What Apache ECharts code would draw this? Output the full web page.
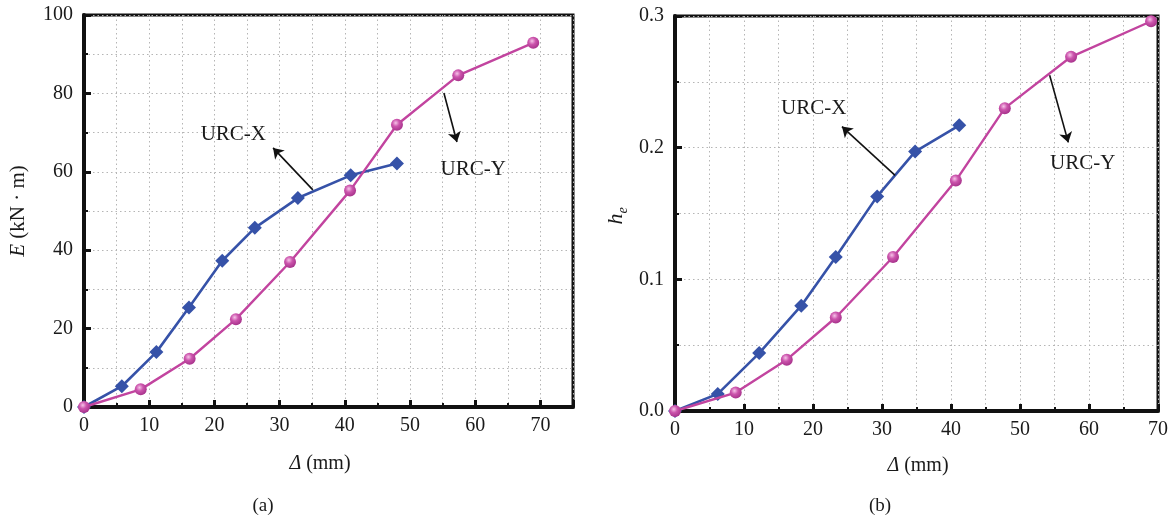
<!DOCTYPE html>
<html>
<head>
<meta charset="utf-8">
<script src="https://cdn.jsdelivr.net/npm/echarts@6/dist/echarts.min.js"></script>
<style>
  html, body { margin: 0; padding: 0; background: #fff; }
  #chart { width: 1175px; height: 522px; }
</style>
</head>
<body>
<div id="chart"></div>
<script>
// (a) dissipated energy E versus displacement
const dispA_X = [0, 5.8, 11.1, 16.1, 21.2, 26.2, 32.8, 40.9, 48.0];
const energyA_X = [0, 5.3, 14.0, 25.4, 37.3, 45.7, 53.3, 59.1, 62.1];
const dispA_Y = [0, 8.7, 16.2, 23.3, 31.6, 40.8, 48.0, 57.4, 68.9];
const energyA_Y = [0, 4.5, 12.3, 22.4, 37.0, 55.2, 72.0, 84.6, 92.9];

// (b) equivalent viscous damping coefficient h_e versus displacement
const dispB_X = [0, 6.2, 12.2, 18.3, 23.3, 29.3, 34.8, 41.2];
const heB_X = [0, 0.013, 0.044, 0.080, 0.117, 0.163, 0.197, 0.217];
const dispB_Y = [0, 8.8, 16.2, 23.3, 31.6, 40.7, 47.8, 57.4, 69.0];
const heB_Y = [0, 0.014, 0.039, 0.071, 0.117, 0.175, 0.230, 0.269, 0.296];

const seriesNames = ['URC-X', 'URC-Y'];

// callout arrows: [tail, head] and label anchor, in data units
const calloutA = {
  x: { tail: [35.1, 55.4], head: [29.0, 66.1], text: [22.9, 69.4] },
  y: { tail: [55.2, 80.1], head: [57.2, 67.6], text: [59.7, 60.5] }
};
const calloutB = {
  x: { tail: [31.9, 0.179], head: [24.2, 0.216], text: [20.1, 0.230] },
  y: { tail: [54.3, 0.255], head: [57.0, 0.204], text: [59.1, 0.188] }
};

const SERIF = "'Liberation Serif', 'DejaVu Serif', serif";
const BLUE = '#3652a8';
const MAGENTA = '#c2449f';
const TXT = '#1a1a1a';

const pair = (xs, ys) => xs.map((x, i) => [x, ys[i]]);

const dotted = { color: '#b5b5b5', width: 1, type: [1.5, 3] };

function arrowMark(c) {
  return {
    silent: true,
    animation: false,
    symbol: ['none', 'arrow'],
    symbolSize: 10,
    itemStyle: { color: '#111' },
    lineStyle: { color: '#111', width: 1.6, type: 'solid' },
    label: { show: false },
    data: [[{ coord: c.tail }, { coord: c.head }]]
  };
}
function textMark(c, name) {
  return {
    silent: true,
    animation: false,
    symbol: 'circle',
    symbolSize: 0,
    label: {
      show: true, position: 'inside', formatter: name,
      color: TXT, fontFamily: SERIF, fontSize: 21
    },
    data: [{ coord: c.text }]
  };
}

const blueStyle = {
  type: 'line', symbol: 'diamond', symbolSize: 14,
  lineStyle: { color: BLUE, width: 2.6 },
  itemStyle: { color: BLUE },
  z: 3
};
const ballFill = {
  type: 'radial', x: 0.4, y: 0.35, r: 0.65,
  colorStops: [
    { offset: 0, color: '#f6c3e8' },
    { offset: 0.45, color: '#cc55ad' },
    { offset: 1, color: '#a8338c' }
  ]
};
const magentaStyle = {
  type: 'line', symbol: 'circle', symbolSize: 12,
  lineStyle: { color: MAGENTA, width: 2.4 },
  itemStyle: { color: ballFill },
  z: 4
};

const labelStyle = { color: TXT, fontFamily: SERIF, fontSize: 20 };

const option = {
  animation: false,
  backgroundColor: '#fff',
  grid: [
    { left: 84, top: 15, width: 489, height: 392, show: true,
      borderColor: '#111', borderWidth: 3, backgroundColor: 'transparent' },
    { left: 675, top: 16, width: 483, height: 395, show: true,
      borderColor: '#111', borderWidth: 3, backgroundColor: 'transparent' }
  ],
  xAxis: [
    { // (a) main x axis: grid every 5, labels every 10
      gridIndex: 0, type: 'value', min: 0, max: 75, interval: 5,
      axisLine: { show: true, onZero: false, lineStyle: { color: '#111', width: 4 } },
      axisTick: { show: true, inside: true, length: 4, lineStyle: { color: '#111', width: 2 } },
      axisLabel: Object.assign({ margin: 9, formatter: v => (v % 10 === 0 && v <= 70) ? String(v) : '' }, labelStyle),
      splitLine: { show: true, lineStyle: dotted }
    },
    { // (a) major ticks every 10
      gridIndex: 0, type: 'value', min: 0, max: 75, interval: 10, position: 'bottom',
      axisLine: { show: false },
      axisTick: { show: true, inside: true, length: 7, lineStyle: { color: '#111', width: 3 } },
      axisLabel: { show: false },
      splitLine: { show: false }
    },
    { // (b) x axis
      gridIndex: 1, type: 'value', min: 0, max: 70, interval: 10,
      axisLine: { show: true, onZero: false, lineStyle: { color: '#111', width: 4 } },
      axisTick: { show: true, inside: true, length: 7, lineStyle: { color: '#111', width: 3 } },
      minorTick: { show: true, splitNumber: 2, length: 4, lineStyle: { color: '#111', width: 2 } },
      axisLabel: Object.assign({ margin: 9 }, labelStyle),
      splitLine: { show: true, lineStyle: dotted },
      minorSplitLine: { show: true, lineStyle: dotted }
    }
  ],
  yAxis: [
    {
      gridIndex: 0, type: 'value', min: 0, max: 100, interval: 20,
      axisLine: { show: true, onZero: false, lineStyle: { color: '#111', width: 4 } },
      axisTick: { show: true, inside: true, length: 7, lineStyle: { color: '#111', width: 3 } },
      minorTick: { show: true, splitNumber: 2, length: 4, lineStyle: { color: '#111', width: 2 } },
      axisLabel: Object.assign({ margin: 11 }, labelStyle),
      splitLine: { show: true, lineStyle: dotted },
      minorSplitLine: { show: true, lineStyle: dotted }
    },
    {
      gridIndex: 1, type: 'value', min: 0, max: 0.3, interval: 0.1,
      axisLine: { show: true, onZero: false, lineStyle: { color: '#111', width: 4 } },
      axisTick: { show: true, inside: true, length: 7, lineStyle: { color: '#111', width: 3 } },
      minorTick: { show: true, splitNumber: 2, length: 4, lineStyle: { color: '#111', width: 2 } },
      axisLabel: Object.assign({ margin: 11, formatter: v => v.toFixed(1) }, labelStyle),
      splitLine: { show: true, lineStyle: dotted },
      minorSplitLine: { show: true, lineStyle: dotted }
    }
  ],
  series: [
    Object.assign({}, blueStyle, {
      name: seriesNames[0], xAxisIndex: 0, yAxisIndex: 0,
      data: pair(dispA_X, energyA_X),
      markLine: arrowMark(calloutA.x), markPoint: textMark(calloutA.x, seriesNames[0])
    }),
    Object.assign({}, magentaStyle, {
      name: seriesNames[1], xAxisIndex: 0, yAxisIndex: 0,
      data: pair(dispA_Y, energyA_Y),
      markLine: arrowMark(calloutA.y), markPoint: textMark(calloutA.y, seriesNames[1])
    }),
    Object.assign({}, blueStyle, {
      name: seriesNames[0], xAxisIndex: 2, yAxisIndex: 1,
      data: pair(dispB_X, heB_X),
      markLine: arrowMark(calloutB.x), markPoint: textMark(calloutB.x, seriesNames[0])
    }),
    Object.assign({}, magentaStyle, {
      name: seriesNames[1], xAxisIndex: 2, yAxisIndex: 1,
      data: pair(dispB_Y, heB_Y),
      markLine: arrowMark(calloutB.y), markPoint: textMark(calloutB.y, seriesNames[1])
    })
  ],
  graphic: [
    { type: 'text', x: 18, y: 211, rotation: Math.PI / 2,
      style: { text: '{i|E} (kN · m)', fill: TXT, font: '21px ' + SERIF,
        align: 'center', verticalAlign: 'middle',
        rich: { i: { fontStyle: 'italic', fontSize: 21, fontFamily: SERIF, fill: TXT } } } },
    { type: 'text', x: 616, y: 216, rotation: Math.PI / 2,
      style: { text: '{i|h}{s|e}', fill: TXT, align: 'center', verticalAlign: 'middle',
        rich: {
          i: { fontStyle: 'italic', fontSize: 22, fontFamily: SERIF, fill: TXT, lineHeight: 28 },
          s: { fontStyle: 'italic', fontSize: 14, fontFamily: SERIF, fill: TXT, lineHeight: 15, verticalAlign: 'bottom' }
        } } },
    { type: 'text', x: 320, y: 464,
      style: { text: '{i|Δ} (mm)', fill: TXT, font: '20px ' + SERIF,
        align: 'center', verticalAlign: 'middle',
        rich: { i: { fontStyle: 'italic', fontSize: 20, fontFamily: SERIF, fill: TXT } } } },
    { type: 'text', x: 918, y: 466,
      style: { text: '{i|Δ} (mm)', fill: TXT, font: '20px ' + SERIF,
        align: 'center', verticalAlign: 'middle',
        rich: { i: { fontStyle: 'italic', fontSize: 20, fontFamily: SERIF, fill: TXT } } } },
    { type: 'text', x: 263, y: 506,
      style: { text: '(a)', fill: TXT, font: '19px ' + SERIF, align: 'center', verticalAlign: 'middle' } },
    { type: 'text', x: 880, y: 506,
      style: { text: '(b)', fill: TXT, font: '19px ' + SERIF, align: 'center', verticalAlign: 'middle' } }
  ]
};

const chart = echarts.init(document.getElementById('chart'), null, { renderer: 'canvas' });
chart.setOption(option);
</script>
</body>
</html>
